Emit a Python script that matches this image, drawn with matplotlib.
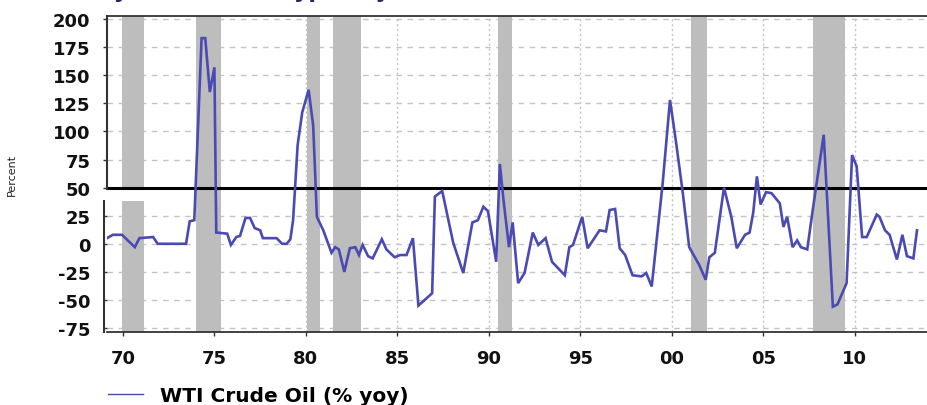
import matplotlib
matplotlib.use("Agg")
import matplotlib.pyplot as plt
from matplotlib.lines import Line2D
from matplotlib.patches import Rectangle

# ---- data (decimal years, % yoy) ----
years = [1969.13, 1969.45, 1969.95, 1970.65, 1970.9, 1971.65, 1971.9, 1973.45, 1973.65, 1973.9,
         1974.3, 1974.5, 1974.75, 1975.0, 1975.1, 1975.7, 1975.9, 1976.2, 1976.4, 1976.7,
         1976.95, 1977.2, 1977.5, 1977.65, 1978.4, 1978.7, 1978.95, 1979.15, 1979.3, 1979.55,
         1979.8, 1980.15, 1980.4, 1980.6, 1980.95, 1981.4, 1981.6, 1981.8, 1982.1, 1982.4,
         1982.7, 1982.9, 1983.1, 1983.4, 1983.65, 1984.15, 1984.4, 1984.85, 1985.15, 1985.5,
         1985.85, 1986.15, 1986.9, 1987.05, 1987.45, 1988.05, 1988.6, 1989.1, 1989.4, 1989.7,
         1989.95, 1990.4, 1990.6, 1990.8, 1991.1, 1991.3, 1991.6, 1991.95, 1992.4, 1992.7,
         1993.1, 1993.45, 1994.15, 1994.4, 1994.6, 1995.1, 1995.4, 1996.05, 1996.4, 1996.6,
         1996.9, 1997.15, 1997.45, 1997.85, 1998.35, 1998.6, 1998.9, 1999.5, 1999.9, 2000.25,
         2000.6, 2000.95, 2001.5, 2001.85, 2002.05, 2002.35, 2002.85, 2003.25, 2003.55, 2004.0,
         2004.25, 2004.45, 2004.65, 2004.85, 2005.15, 2005.45, 2005.9, 2006.1, 2006.3, 2006.6,
         2006.85, 2007.05, 2007.4, 2007.7, 2008.05, 2008.3, 2008.8, 2009.05, 2009.55, 2009.85,
         2010.1, 2010.4, 2010.65, 2011.2, 2011.35, 2011.65, 2011.9, 2012.3, 2012.6, 2012.85,
         2013.2, 2013.4]
wti_yoy = [5, 8, 8, -3, 5, 6, 0, 0, 20, 21,
           183, 183, 135, 157, 10, 9, -1, 6, 7, 23,
           23, 14, 12, 5, 5, 0, 0, 4, 21, 88,
           117, 137, 105, 24, 12, -8, -3, -5, -25, -4,
           -3, -10, -1, -11, -13, 4, -5, -12, -10, -10,
           5, -55, -44, 42, 47, 1, -26, 19, 21, 33,
           29, -16, 71, 39, -3, 19, -35, -26, 10, -1,
           5, -16, -28, -3, -1, 24, -4, 12, 11, 30,
           31, -4, -10, -28, -29, -26, -38, 54, 128, 88,
           45, -3, -19, -32, -12, -8, 50, 24, -4, 8,
           10, 28, 60, 35, 46, 45, 36, 15, 24, -3,
           3, -3, -5, 30, 69, 97, -56, -54, -35, 79,
           69, 6, 6, 26, 24, 12, 8, -14, 8, -11,
           -13, 12]

recession_start = [1969.95, 1974.0, 1980.05, 1981.5, 1990.5, 2001.05, 2007.7]
recession_end = [1971.15, 1975.35, 1980.75, 1983.0, 1991.27, 2001.9, 2009.45]

xtick_pos = [1970, 1975, 1980, 1985, 1990, 1995, 2000, 2005, 2010]
xtick_labels = ["70", "75", "80", "85", "90", "95", "00", "05", "10"]
ytick_pos = [-75, -50, -25, 0, 25, 50, 75, 100, 125, 150, 175, 200]

series_label = "WTI Crude Oil (% yoy)"
title_text = "Every oil shock is typically"

LINE_COLOR = "#4a4ab4"
BAR_COLOR = "#bdbdbd"
GRID_COLOR = "#c4c4c4"
SPINE_COLOR = "#333333"

XMIN, XMAX = 1969.13, 2014.0
YMIN, YMAX = -78.5, 202.7

fig = plt.figure(figsize=(9.28, 4.06), dpi=100)
W, H = 928, 406
ax = fig.add_axes([107 / W, 1 - 333 / H, 1 - 107 / W, (333 - 17) / H])
ax.set_xlim(XMIN, XMAX)
ax.set_ylim(YMIN, YMAX)

# grid
for y in ytick_pos:
    if y == 50:
        continue
    ax.axhline(y, color=GRID_COLOR, lw=1.0, ls=(0, (4, 4)), zorder=0)
for x in xtick_pos:
    ax.axvline(x, color=GRID_COLOR, lw=1.0, ls=(0, (1.5, 2)), zorder=0)

# recession bars
for s, e in zip(recession_start, recession_end):
    ax.axvspan(s, e, color=BAR_COLOR, lw=0, zorder=1)

# white seam of the stitched image (left part)
ax.add_patch(Rectangle((XMIN, 38.5), 1972.5 - XMIN, 10.5, facecolor="white",
                       edgecolor="none", zorder=1.5))

# 50% reference line
ax.axhline(50, color="black", lw=2.2, zorder=2)

# data line
ax.plot(years, wti_yoy, color=LINE_COLOR, lw=1.9, zorder=3, solid_joinstyle="miter")

# spines
ax.spines["right"].set_visible(False)
ax.spines["left"].set_visible(False)
for sp in ("top", "bottom"):
    ax.spines[sp].set_color(SPINE_COLOR)
    ax.spines[sp].set_linewidth(1.3)
tr = ax.get_yaxis_transform()
ax.plot([0, 0], [YMAX, 49], transform=tr, clip_on=False, color=SPINE_COLOR, lw=1.5, zorder=5)
ax.plot([-3 / 821, -3 / 821], [38.5, YMIN], transform=tr, clip_on=False,
        color=SPINE_COLOR, lw=1.5, zorder=5)

# ticks
ax.set_xticks(xtick_pos)
ax.set_xticklabels(xtick_labels)
ax.set_yticks(ytick_pos)
ax.set_yticklabels([str(v) for v in ytick_pos])
ax.tick_params(axis="both", direction="out", length=3, width=1, color=SPINE_COLOR,
               labelsize=13, labelcolor="#111111")
ax.tick_params(axis="y", pad=9)
ax.tick_params(axis="x", pad=9)
for lab in ax.get_xticklabels() + ax.get_yticklabels():
    lab.set_fontweight("bold")
    lab.set_family("DejaVu Sans")

ax.set_ylabel("Percent", fontsize=8, family="DejaVu Sans", color="#222222")
ax.yaxis.set_label_coords(17 / W, 1 - 175 / H, transform=fig.transFigure)

# title clipped by the top edge (only descenders visible, as in the reference)
fig.text(58 / W, 1 + 2.2 / H, title_text, fontsize=16, fontweight="bold",
         color="#1c2a66", va="baseline", ha="left", family="DejaVu Sans")

# legend
handle = Line2D([], [], color=LINE_COLOR, lw=1.0)
leg = ax.legend([handle], [series_label], loc="center left",
                bbox_to_anchor=(108 / W, 1 - 397 / H), bbox_transform=fig.transFigure,
                frameon=False, handlelength=1.75, handletextpad=0.85,
                borderpad=0, borderaxespad=0,
                prop={"weight": "bold", "size": 14.5, "family": "DejaVu Sans"})

fig.savefig("out.png", dpi=100)
